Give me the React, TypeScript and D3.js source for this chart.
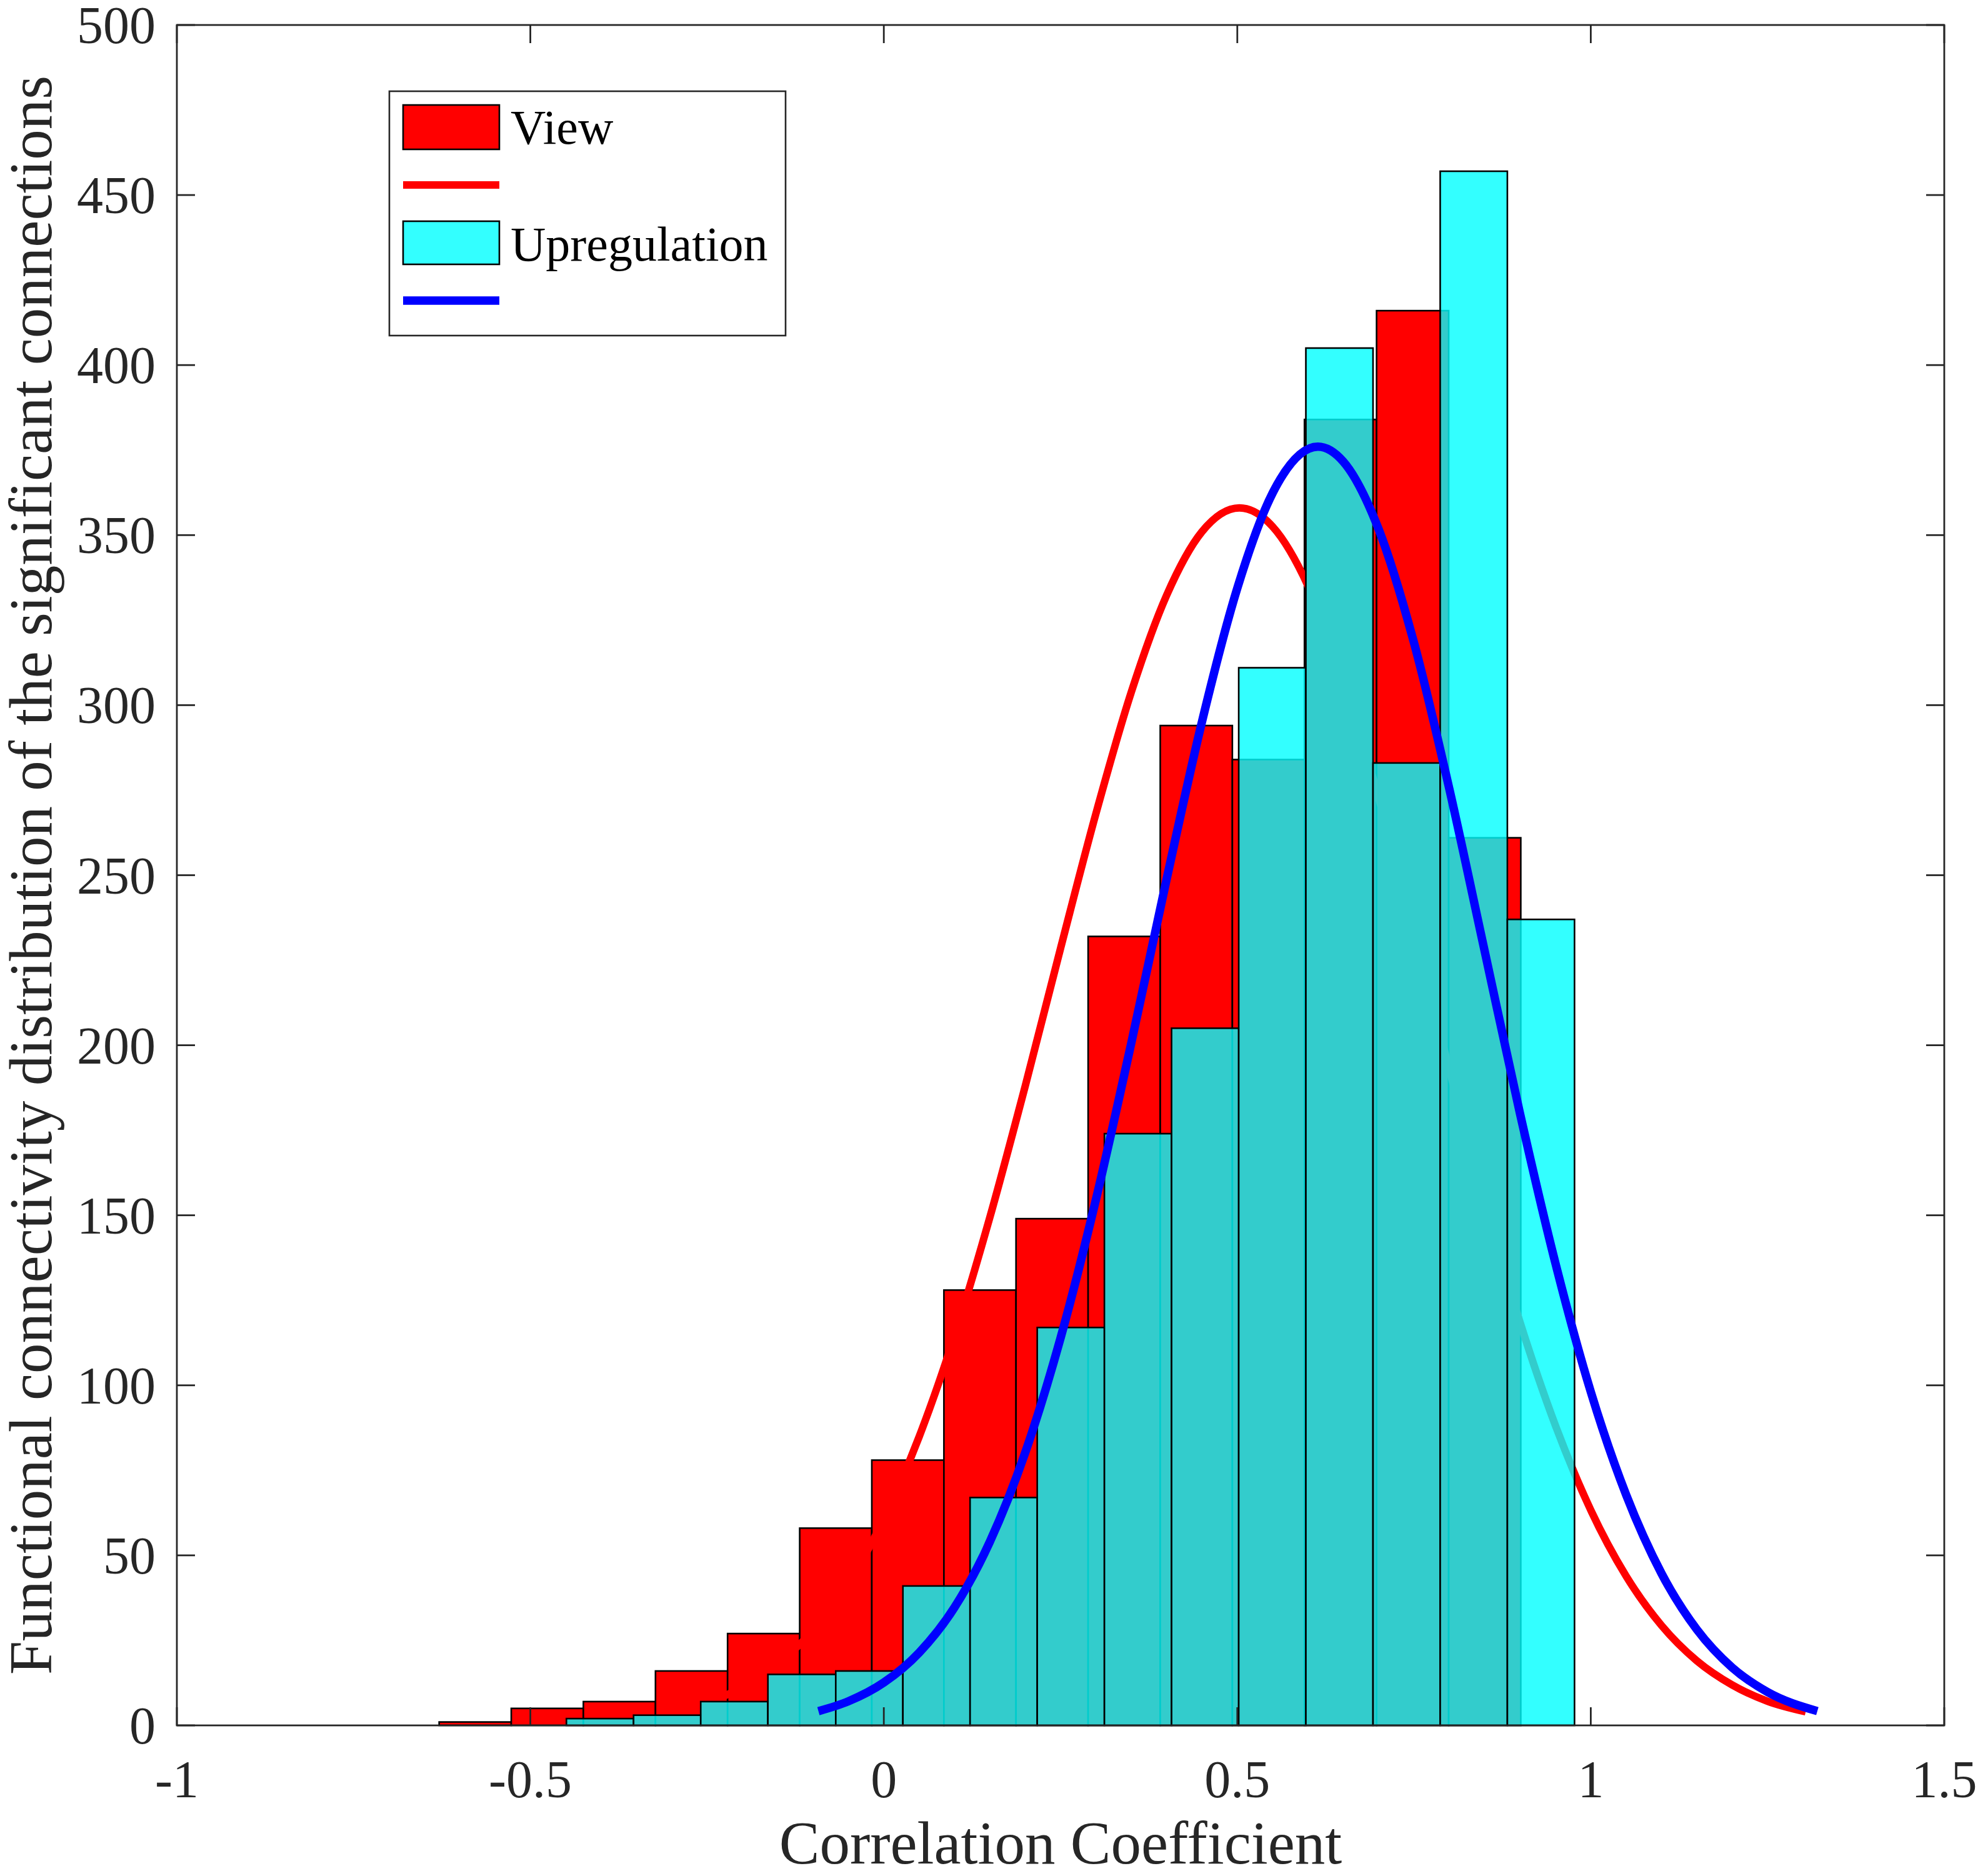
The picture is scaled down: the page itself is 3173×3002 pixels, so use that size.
import { scaleLinear, line, curveMonotoneX } from "d3";

// histogram bins (x = correlation coefficient)
const viewEdges = [-0.629, -0.527, -0.425, -0.323, -0.221, -0.119, -0.017, 0.085, 0.187, 0.289, 0.391, 0.493, 0.595, 0.697, 0.799, 0.901];
const viewCounts = [1, 5, 7, 16, 27, 58, 78, 128, 149, 232, 294, 284, 384, 416, 261];

const upEdges = [-0.449, -0.354, -0.259, -0.164, -0.068, 0.027, 0.122, 0.217, 0.312, 0.407, 0.502, 0.597, 0.692, 0.787, 0.882, 0.977];
const upCounts = [2, 3, 7, 15, 16, 41, 67, 117, 174, 205, 311, 405, 283, 457, 237];

// fitted curves, points
const viewFitX = [-0.298, -0.25, -0.2, -0.15, -0.1, -0.05, 0, 0.05, 0.1, 0.15, 0.2, 0.25, 0.3, 0.35, 0.4, 0.45, 0.503, 0.55, 0.6, 0.65, 0.7, 0.75, 0.8, 0.85, 0.9, 0.95, 1.0, 1.05, 1.1, 1.15, 1.2, 1.25, 1.304];
const viewFitY = [4.0, 6.7, 11.2, 18.0, 28.0, 41.9, 60.7, 84.9, 114.6, 149.4, 188.0, 228.5, 268.1, 303.8, 332.3, 351.0, 358.0, 352.5, 335.1, 307.6, 272.7, 233.4, 192.8, 153.9, 118.5, 88.2, 63.3, 43.9, 29.4, 19.0, 11.9, 7.1, 4.0];

const upFitX = [-0.0925, -0.05, 0, 0.05, 0.1, 0.15, 0.2, 0.25, 0.3, 0.35, 0.4, 0.45, 0.5, 0.55, 0.614, 0.65, 0.7, 0.75, 0.8, 0.85, 0.9, 0.95, 1.0, 1.05, 1.1, 1.15, 1.2, 1.25, 1.3205];
const upFitY = [4.2, 7.1, 12.6, 21.4, 34.7, 54.0, 80.2, 113.9, 154.6, 200.6, 248.8, 295.1, 334.4, 362.4, 376.0, 371.6, 351.7, 318.3, 275.3, 227.6, 179.8, 135.9, 98.1, 67.8, 44.7, 28.2, 17.0, 9.8, 4.2];

const xTicks = [-1, -0.5, 0, 0.5, 1, 1.5];
const yTicks = [0, 50, 100, 150, 200, 250, 300, 350, 400, 450, 500];

const legendLabels = ["View", "Upregulation"];

const WIDTH = 3173;
const HEIGHT = 3002;
const FONT = "'Liberation Serif', 'Times New Roman', serif";
const AXIS = "#262626";
const TICK = 29;

export default function App() {
  const x = scaleLinear().domain([-1, 1.5]).range([283, 3111]);
  const y = scaleLinear().domain([0, 500]).range([2761, 40]);

  const fitLine = line<[number, number]>()
    .x((d) => x(d[0]))
    .y((d) => y(d[1]))
    .curve(curveMonotoneX);

  const viewFit = viewFitX.map((v, i) => [v, viewFitY[i]] as [number, number]);
  const upFit = upFitX.map((v, i) => [v, upFitY[i]] as [number, number]);

  const bars = (edges: number[], counts: number[], fill: string, opacity: number) =>
    counts.map((c, i) => (
      <rect
        key={i}
        x={x(edges[i])}
        y={y(c)}
        width={x(edges[i + 1]) - x(edges[i])}
        height={y(0) - y(c)}
        fill={fill}
        fillOpacity={opacity}
        stroke="#000"
        strokeWidth={2.6}
      />
    ));

  const [x0, x1] = x.range();
  const [y0, y1] = y.range();

  return (
    <>
      <style>{"body{margin:0}"}</style>
      <svg width={WIDTH} height={HEIGHT} style={{ display: "block", background: "#fff" }}>
        {bars(viewEdges, viewCounts, "#ff0000", 1)}
        <path d={fitLine(viewFit) ?? ""} fill="none" stroke="#ff0000" strokeWidth={12} strokeLinejoin="round" />
        {bars(upEdges, upCounts, "#00ffff", 0.8)}
        <path d={fitLine(upFit) ?? ""} fill="none" stroke="#0000ff" strokeWidth={13.5} strokeLinejoin="round" />

        {/* axes box and ticks */}
        <g stroke={AXIS} strokeWidth={2.8}>
          {xTicks.map((t) => (
            <g key={t}>
              <line x1={x(t)} x2={x(t)} y1={y0} y2={y0 - TICK} />
              <line x1={x(t)} x2={x(t)} y1={y1} y2={y1 + TICK} />
            </g>
          ))}
          {yTicks.map((t) => (
            <g key={t}>
              <line x1={x0} x2={x0 + TICK} y1={y(t)} y2={y(t)} />
              <line x1={x1} x2={x1 - TICK} y1={y(t)} y2={y(t)} />
            </g>
          ))}
          <rect x={x0} y={y1} width={x1 - x0} height={y0 - y1} fill="none" />
        </g>

        <g fontFamily={FONT} fontSize={84} fill={AXIS}>
          {xTicks.map((t) => (
            <text key={t} x={x(t)} y={2876} textAnchor="middle">
              {String(t)}
            </text>
          ))}
          {yTicks.map((t) => (
            <text key={t} x={249} y={y(t) + 29} textAnchor="end">
              {String(t)}
            </text>
          ))}
        </g>

        <text x={(x0 + x1) / 2} y={2982} textAnchor="middle" fontFamily={FONT} fontSize={97} fill={AXIS}>
          Correlation Coefficient
        </text>
        <text
          transform={`translate(82,${(y0 + y1) / 2}) rotate(-90)`}
          textAnchor="middle"
          fontFamily={FONT}
          fontSize={97}
          fill={AXIS}
        >
          Functional connectivity distribution of the significant connections
        </text>

        {/* legend */}
        <g fontFamily={FONT} fontSize={78} fill="#000">
          <rect x={623} y={146} width={634} height={391} fill="#fff" stroke={AXIS} strokeWidth={2.6} />
          <rect x={645} y={168} width={154} height={71} fill="#ff0000" stroke="#000" strokeWidth={2.6} />
          <text x={817} y={230}>{legendLabels[0]}</text>
          <line x1={645} x2={799} y1={296} y2={296} stroke="#ff0000" strokeWidth={12} />
          <rect x={645} y={354} width={154} height={69} fill="#00ffff" fillOpacity={0.8} stroke="#000" strokeWidth={2.6} />
          <text x={817} y={417}>{legendLabels[1]}</text>
          <line x1={645} x2={799} y1={481} y2={481} stroke="#0000ff" strokeWidth={13.5} />
        </g>
      </svg>
    </>
  );
}
